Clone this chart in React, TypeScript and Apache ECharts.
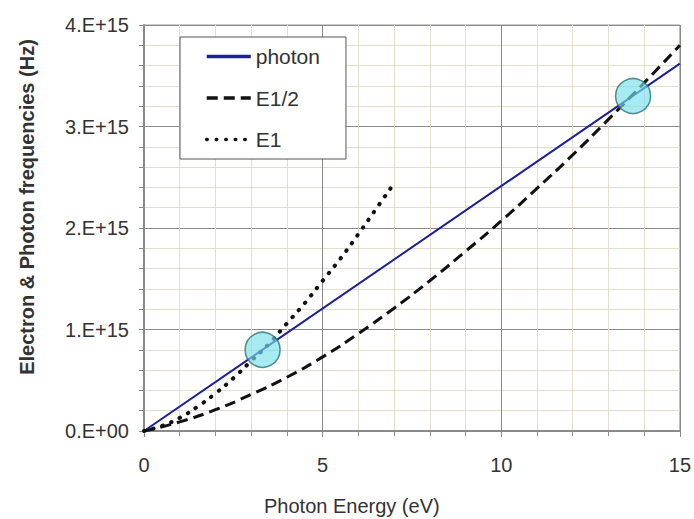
import React, { useEffect, useRef } from "react";
import * as echarts from "echarts";

// Photon energy (eV) vs frequency, values in units of 1e15 Hz
const photonE = [0, 15];
const photonF = [0, 3.62];

const halfE = [0, 1, 2, 3, 4, 5, 6, 7, 8, 9, 10, 11, 12, 13, 14, 15];
const halfF = [0, 0.09, 0.21, 0.36, 0.53, 0.73, 0.96, 1.21, 1.48, 1.77, 2.07, 2.39, 2.72, 3.07, 3.43, 3.8];

const oneE = [0, 0.5, 1, 1.5, 2, 2.5, 3, 3.5, 4, 4.5, 5, 5.5, 6, 6.5, 7];
const oneF = [0, 0.05, 0.13, 0.24, 0.37, 0.52, 0.69, 0.86, 1.06, 1.26, 1.48, 1.7, 1.94, 2.19, 2.44];

const crossE = [3.32, 13.69];
const crossF = [0.8, 3.3];

const seriesNames = ["photon", "E1/2", "E1"];
const xTitle = "Photon Energy (eV)";
const yTitle = "Electron & Photon frequencies (Hz)";

const zip = (a: number[], b: number[]) => a.map((v, i) => [v, b[i]]);
const FONT = "'Liberation Sans', Arial, sans-serif";

export default function App() {
  const ref = useRef<HTMLDivElement>(null);
  useEffect(() => {
    document.body.style.margin = "0";
    if (!ref.current) return;
    const chart = echarts.init(ref.current, undefined, { renderer: "svg" });
    chart.setOption({
      animation: false,
      backgroundColor: "#fff",
      grid: {
        left: 144,
        right: 13,
        top: 25,
        bottom: 88,
        show: true,
        borderColor: "#9a9a9a",
        borderWidth: 1,
      },
      legend: {
        orient: "vertical",
        left: 180,
        top: 37,
        data: seriesNames,
        backgroundColor: "#fff",
        borderColor: "#555",
        borderWidth: 1,
        padding: [9, 26, 9, 25],
        itemWidth: 44,
        itemHeight: 22,
        itemGap: 20.5,
        itemStyle: { color: "rgba(0,0,0,0)", borderWidth: 0, opacity: 0 },
        lineStyle: { width: 3.5 },
        textStyle: { fontFamily: FONT, fontSize: 21, color: "#333" },
      },
      xAxis: {
        type: "value",
        min: 0,
        max: 15,
        interval: 5,
        axisLine: { show: true, lineStyle: { color: "#8a8a8a", width: 2 } },
        axisTick: { show: true, length: 6, inside: false, lineStyle: { color: "#8a8a8a" } },
        minorTick: { show: true, splitNumber: 5, length: 5, lineStyle: { color: "#8a8a8a" } },
        splitLine: { show: true, lineStyle: { color: "#8a8a8a", width: 1 } },
        minorSplitLine: { show: true, lineStyle: { color: "#e2dfcf", width: 1 } },
        axisLabel: { fontFamily: FONT, fontSize: 20, color: "#333", margin: 24 },
      },
      yAxis: {
        type: "value",
        min: 0,
        max: 4,
        interval: 1,
        axisLine: { show: true, lineStyle: { color: "#8a8a8a", width: 2 } },
        axisTick: { show: true, length: 5, lineStyle: { color: "#8a8a8a" } },
        minorTick: { show: true, splitNumber: 5, length: 5, lineStyle: { color: "#8a8a8a" } },
        splitLine: { show: true, lineStyle: { color: "#8a8a8a", width: 1 } },
        minorSplitLine: { show: true, lineStyle: { color: "#e2dfcf", width: 1 } },
        axisLabel: {
          fontFamily: FONT,
          fontSize: 20,
          color: "#333",
          margin: 15,
          formatter: (v: number) => (v === 0 ? "0.E+00" : `${v}.E+15`),
        },
      },
      graphic: [
        {
          type: "text",
          left: 264,
          top: 496,
          style: { text: xTitle, font: `20px ${FONT}`, fill: "#333" },
        },
        {
          type: "text",
          x: 27,
          y: 207,
          rotation: Math.PI / 2,
          style: {
            text: yTitle,
            font: `bold 20px ${FONT}`,
            fill: "#333",
            align: "center",
            verticalAlign: "middle",
          },
        },
      ],
      series: [
        {
          name: seriesNames[0],
          type: "line",
          data: zip(photonE, photonF),
          symbol: "none",
          lineStyle: { color: "#1f1f99", width: 2 },
          itemStyle: { color: "#1f1f99" },
          z: 3,
        },
        {
          name: seriesNames[1],
          type: "line",
          data: zip(halfE, halfF),
          symbol: "none",
          smooth: true,
          lineStyle: { color: "#111", width: 3, type: [11, 6] },
          itemStyle: { color: "#111" },
          z: 3,
        },
        {
          name: seriesNames[2],
          type: "line",
          data: zip(oneE, oneF),
          symbol: "none",
          smooth: true,
          lineStyle: { color: "#111", width: 4, type: [0.5, 9], cap: "round" },
          itemStyle: { color: "#111" },
          z: 3,
        },
        {
          name: "crossings",
          type: "scatter",
          data: zip(crossE, crossF),
          symbol: "circle",
          symbolSize: 35,
          itemStyle: { color: "rgba(120,225,235,0.82)", borderColor: "#2f7070", borderWidth: 1.5 },
          z: 4,
        },
      ],
    });
    return () => chart.dispose();
  }, []);
  return <div ref={ref} style={{ width: 694, height: 519 }} />;
}
